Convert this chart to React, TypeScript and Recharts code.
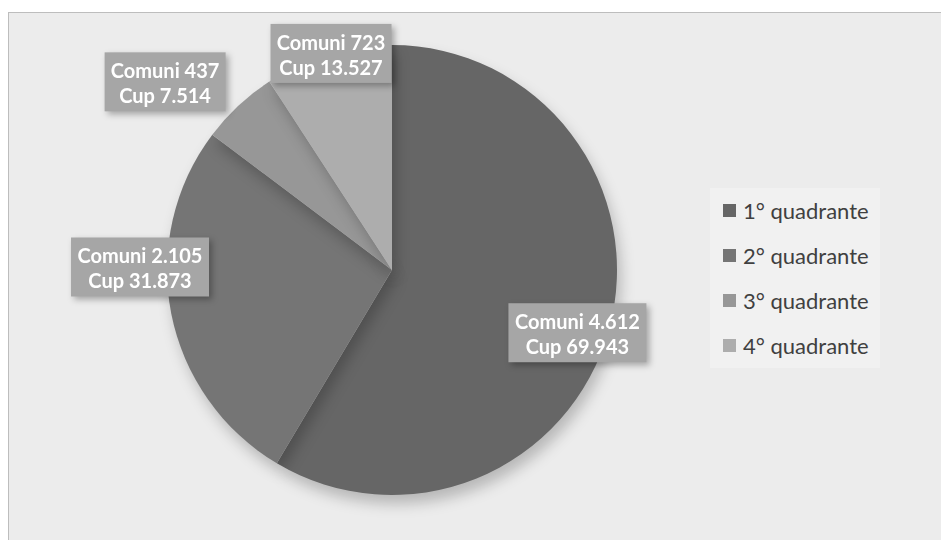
import { PieChart, Pie, Cell, Legend } from 'recharts';

const quadranti = ['1° quadrante', '2° quadrante', '3° quadrante', '4° quadrante'];
const comuni = [4612, 2105, 437, 723];
const cup = [69943, 31873, 7514, 13527];

const COLORS = ['#666666', '#757575', '#979797', '#adadad'];
// label placement around each slice: radius factor and angle nudge (deg)
const LABEL_R = [0.87, 1.12, 1.31, 1.0];
const LABEL_NUDGE = [-3.3, -11.8, 7.3, -0.8];

const fmt = (n: number) => n.toLocaleString('it-IT');

const data = quadranti.map((name, i) => ({
    name,
    comuni: comuni[i],
    cup: cup[i],
}));

const RAD = Math.PI / 180;

function renderLabel(props: any) {
    const { cx, cy, midAngle, outerRadius, index } = props;
    const a = (midAngle + LABEL_NUDGE[index]) * RAD;
    const r = outerRadius * LABEL_R[index];
    const x = cx + r * Math.cos(a);
    const y = cy - r * Math.sin(a);
    const line1 = `Comuni ${fmt(comuni[index])}`;
    const line2 = `Cup ${fmt(cup[index])}`;
    const w = 36 + 8.5 * Math.max(line1.length, line2.length);
    const h = 59;
    return (
        <g key={`lbl-${index}`} style={{ filter: 'drop-shadow(3px 3px 3px rgba(0,0,0,0.3))' }}>
            <rect x={x - w / 2} y={y - h / 2} width={w} height={h} fill='#a6a6a6' />
            <text
                x={x}
                y={y - 11.5}
                textAnchor='middle'
                dominantBaseline='central'
                fill='#ffffff'
                fontFamily='Lato'
                fontWeight='bold'
                fontSize={20}
            >
                {line1}
            </text>
            <text
                x={x}
                y={y + 13.5}
                textAnchor='middle'
                dominantBaseline='central'
                fill='#ffffff'
                fontFamily='Lato'
                fontWeight='bold'
                fontSize={20}
            >
                {line2}
            </text>
        </g>
    );
}

function renderLegend(props: any) {
    const { payload } = props;
    return (
        <div
            style={{
                background: '#f1f1f1',
                width: 170,
                fontFamily: 'Lato',
                fontSize: 22,
                color: '#404040',
            }}
        >
            {payload.map((entry: any, i: number) => (
                <div
                    key={`leg-${i}`}
                    style={{ display: 'flex', alignItems: 'center', height: 45, paddingLeft: 13 }}
                >
                    <span
                        style={{
                            display: 'inline-block',
                            width: 13,
                            height: 13,
                            background: entry.color,
                            marginRight: 7,
                        }}
                    />
                    {entry.value}
                </div>
            ))}
        </div>
    );
}

export default function App() {
    return (
        <div
            style={{
                position: 'fixed',
                left: 8,
                top: 12,
                width: 940,
                height: 535,
                background: '#ececec',
                borderLeft: '1px solid #bdbdbd',
                borderTop: '1px solid #bdbdbd',
            }}
        >
            <PieChart width={933} height={528}>
                <Pie
                    data={data}
                    dataKey='comuni'
                    nameKey='name'
                    cx={378}
                    cy={252}
                    outerRadius={225}
                    startAngle={90}
                    endAngle={-270}
                    stroke='none'
                    label={renderLabel}
                    labelLine={false}
                    isAnimationActive={false}
                    style={{ filter: 'drop-shadow(4px 9px 7px rgba(0,0,0,0.22))' }}
                >
                    {data.map((entry, index) => (
                        <Cell key={`cell-${index}`} fill={COLORS[index % COLORS.length]} />
                    ))}
                </Pie>
                <Legend
                    layout='vertical'
                    align='right'
                    verticalAlign='top'
                    content={renderLegend}
                    wrapperStyle={{ left: 701, top: 175, width: 170 }}
                />
            </PieChart>
        </div>
    );
}
